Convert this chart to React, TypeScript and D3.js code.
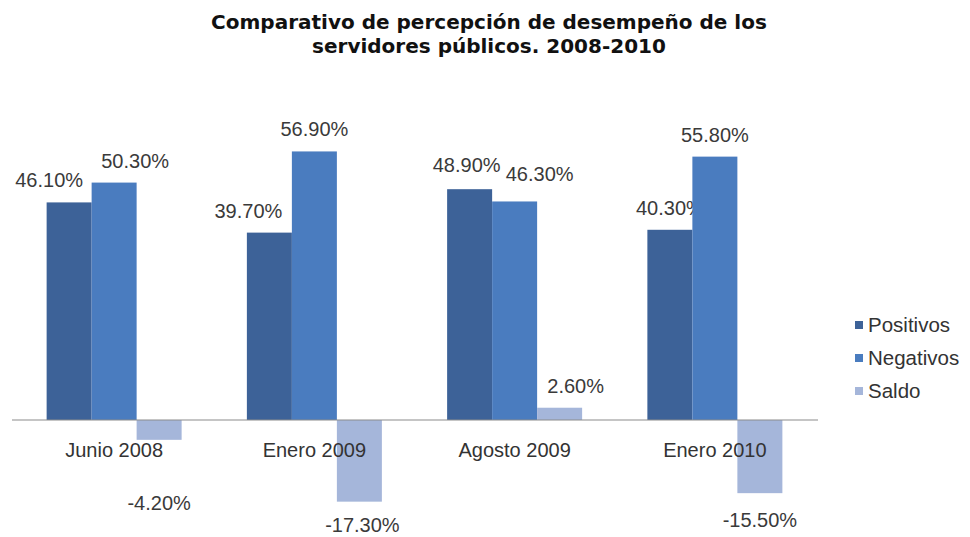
import React from 'react'
import { scaleBand, scaleLinear, scaleOrdinal } from 'd3'

const categories = ['Junio 2008', 'Enero 2009', 'Agosto 2009', 'Enero 2010']
const series = ['Positivos', 'Negativos', 'Saldo']
const positivos = [46.1, 39.7, 48.9, 40.3]
const negativos = [50.3, 56.9, 46.3, 55.8]
const saldo = [-4.2, -17.3, 2.6, -15.5]

const title = ['Comparativo de percepción de desempeño de los', 'servidores públicos. 2008-2010']

// label nudges (Excel put some labels off-center), [series][category] => [dx, dy]
const nudges = [
    [[-20, 0], [-21, 0], [-3, -2], [0, 0]],
    [[21, 0], [0, 0], [25, -5], [0, 0]],
    [[0, 36], [3, -4], [16, 0], [0, 0]],
]

const width = 970
const height = 537
const font = '"Liberation Sans", Arial, sans-serif'

function App() {
    const values = [positivos, negativos, saldo]

    const x0 = scaleBand().domain(categories).range([14, 815])
    const x1 = scaleBand()
        .domain(series)
        .range([(x0.bandwidth() - 135) / 2, (x0.bandwidth() + 135) / 2])
    const y = scaleLinear().domain([-20, 60]).range([420 + 20 * 4.72, 420 - 60 * 4.72])
    const color = scaleOrdinal<string>().domain(series).range(['#3d6298', '#4a7cbf', '#a5b6da'])

    return (
        <svg
            width={width}
            height={height}
            style={{ position: 'absolute', left: 0, top: 0, background: '#fff' }}
        >
            {title.map((t, i) => (
                <text
                    key={i}
                    x={489}
                    y={29 + i * 24}
                    textAnchor="middle"
                    fontFamily='"DejaVu Sans", Verdana, sans-serif'
                    fontWeight="bold"
                    fontSize={20}
                    fill="#111"
                >
                    {t}
                </text>
            ))}

            {categories.map((c, ci) => (
                <g key={c} transform={`translate(${x0(c)}, 0)`}>
                    {series.map((s, si) => {
                        const v = values[si][ci]
                        const bx = x1(s)!
                        const y0 = y(0)
                        const yv = y(v)
                        const [dx, dy] = nudges[si][ci]
                        const cx = bx + x1.bandwidth() / 2
                        const ly = v >= 0 ? yv - 15 : yv + 34
                        return (
                            <g key={s}>
                                <rect
                                    x={bx}
                                    y={Math.min(y0, yv)}
                                    width={x1.bandwidth()}
                                    height={Math.abs(yv - y0)}
                                    fill={color(s)}
                                />
                                <text
                                    x={cx + dx}
                                    y={ly + dy}
                                    textAnchor="middle"
                                    fontFamily={font}
                                    fontSize={20}
                                    fill="#3a3a3a"
                                >
                                    {v.toFixed(2) + '%'}
                                </text>
                            </g>
                        )
                    })}
                </g>
            ))}

            <line x1={12} x2={818} y1={y(0)} y2={y(0)} stroke="#8c8c8c" strokeWidth={1.2} />

            {categories.map(c => (
                <text
                    key={c}
                    x={x0(c)! + x0.bandwidth() / 2}
                    y={457}
                    textAnchor="middle"
                    fontFamily={font}
                    fontSize={20}
                    fill="#333"
                >
                    {c}
                </text>
            ))}

            {series.map((s, i) => (
                <g key={s} transform={`translate(855, ${325 + i * 33})`}>
                    <rect x={0} y={-4} width={8} height={8} fill={color(s)} />
                    <text x={13} y={7} fontFamily={font} fontSize={20.5} fill="#333">
                        {s}
                    </text>
                </g>
            ))}
        </svg>
    )
}

export default App
